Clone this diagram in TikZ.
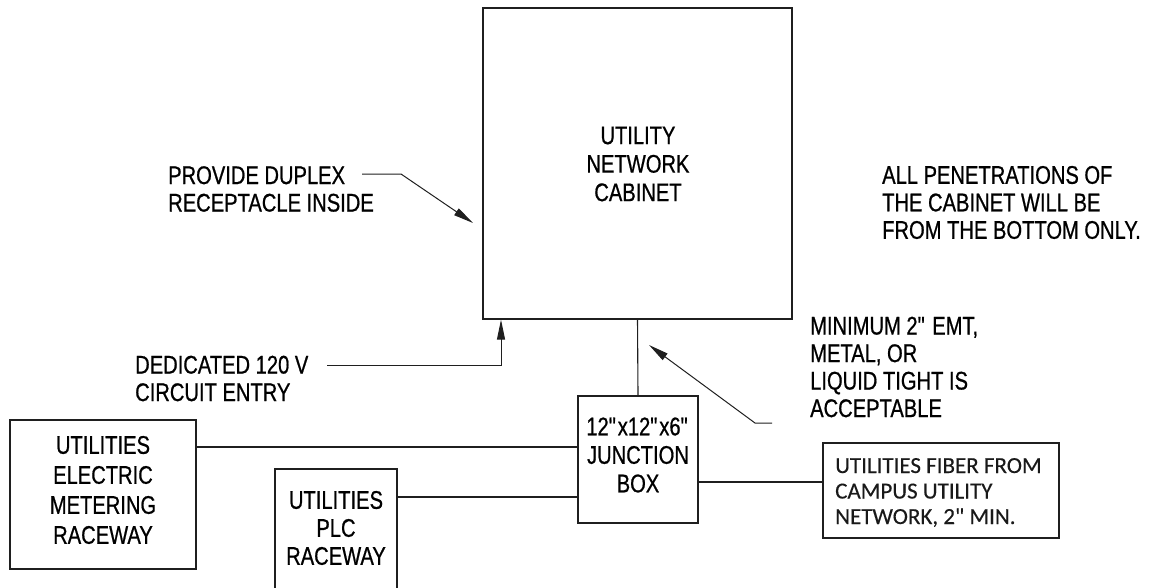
\documentclass[tikz,border=0pt]{standalone}
\usepackage{fontspec}
\setmainfont{Liberation Sans}[FakeStretch=0.79,FakeBold=0.7]
\newfontfamily\calib{Carlito}[FakeBold=0.3]
\usetikzlibrary{arrows.meta}
\newcommand{\qq}{\textquotedbl}
\begin{document}
\begin{tikzpicture}[x=1pt,y=-1pt,
  box/.style={draw=black!88, line width=1.2pt, inner sep=0, align=center,
    font=\fontsize{25.5}{28.5}\selectfont},
  lbl/.style={inner sep=0, align=left, font=\fontsize{25.5}{27.5}\selectfont},
  ln/.style={draw=black!88, line width=1.1pt},
  ldr/.style={draw=black!88, line width=1pt, -{Triangle[length=20pt,width=8pt]}}]
\useasboundingbox (0,0) rectangle (1155,587);
% boxes
\node[box, minimum width=309pt, minimum height=311pt] (cab) at (637.5,163.5) {};
\node[box, align=center, draw=none] (cabt) at (638,164) {UTILITY\\NETWORK\\CABINET};
\node[box, minimum width=120pt, minimum height=127pt] (jb) at (638,459.5) {};
\node[box, draw=none] (jbt) at (638,455) {12\qq x12\qq x6\qq\\JUNCTION\\BOX};
\node[box, minimum width=186pt, minimum height=149pt] (elec) at (103,494.5) {};
\node[box, draw=none, font=\fontsize{25.5}{30}\selectfont] (elect) at (103,490) {UTILITIES\\ELECTRIC\\METERING\\RACEWAY};
\node[box, minimum width=122pt, minimum height=140pt] (plc) at (336,539) {};
\node[box, draw=none, font=\fontsize{25.5}{28}\selectfont] (plct) at (336,528) {UTILITIES\\PLC\\RACEWAY};
\node[box, minimum width=236pt, minimum height=95pt] (fib) at (941,490.5) {};
\node[inner sep=0, anchor=west, align=left, text=black!90, font=\calib\fontsize{23}{25.5}\selectfont] (fibt) at (835,492.5)
  {UTILITIES FIBER FROM\\CAMPUS UTILITY\\NETWORK, 2\qq{} MIN.};
% connectors
\coordinate (y1) at (0,447);
\coordinate (y2) at (0,497);
\coordinate (y3) at (0,482);
\draw[ln] (cab.south) -- (jb.north);
\draw[ln] (elec.east |- y1) -- (jb.west |- y1);
\draw[ln] (plc.east |- y2) -- (jb.west |- y2);
\draw[ln] (jb.east |- y3) -- (fib.west |- y3);
% notes
\node[lbl, anchor=west] (n1) at (168,189) {PROVIDE DUPLEX\\RECEPTACLE INSIDE};
\coordinate (n1a) at (362,174);
\coordinate (n1b) at (401,174);
\coordinate (n1c) at (473,223);
\draw[ldr] (n1a) -- (n1b) -- (n1c);
\node[lbl, anchor=west] (n2) at (135,378.5) {DEDICATED 120 V\\CIRCUIT ENTRY};
\coordinate (n2a) at (327,365);
\coordinate (n2b) at (501,365);
\draw[ldr] (n2a) -- (n2b) -- (n2b |- cab.south);
\node[lbl, anchor=west] (n3) at (810,367) {MINIMUM 2\qq{} EMT,\\METAL, OR\\LIQUID TIGHT IS\\ACCEPTABLE};
\coordinate (n3a) at (772,423);
\coordinate (n3b) at (755,423);
\coordinate (n3c) at (649,345);
\draw[ldr] (n3a) -- (n3b) -- (n3c);
\node[lbl, anchor=west] (n4) at (882,202.5) {ALL PENETRATIONS OF\\THE CABINET WILL BE\\FROM THE BOTTOM ONLY.};
\end{tikzpicture}
\end{document}
